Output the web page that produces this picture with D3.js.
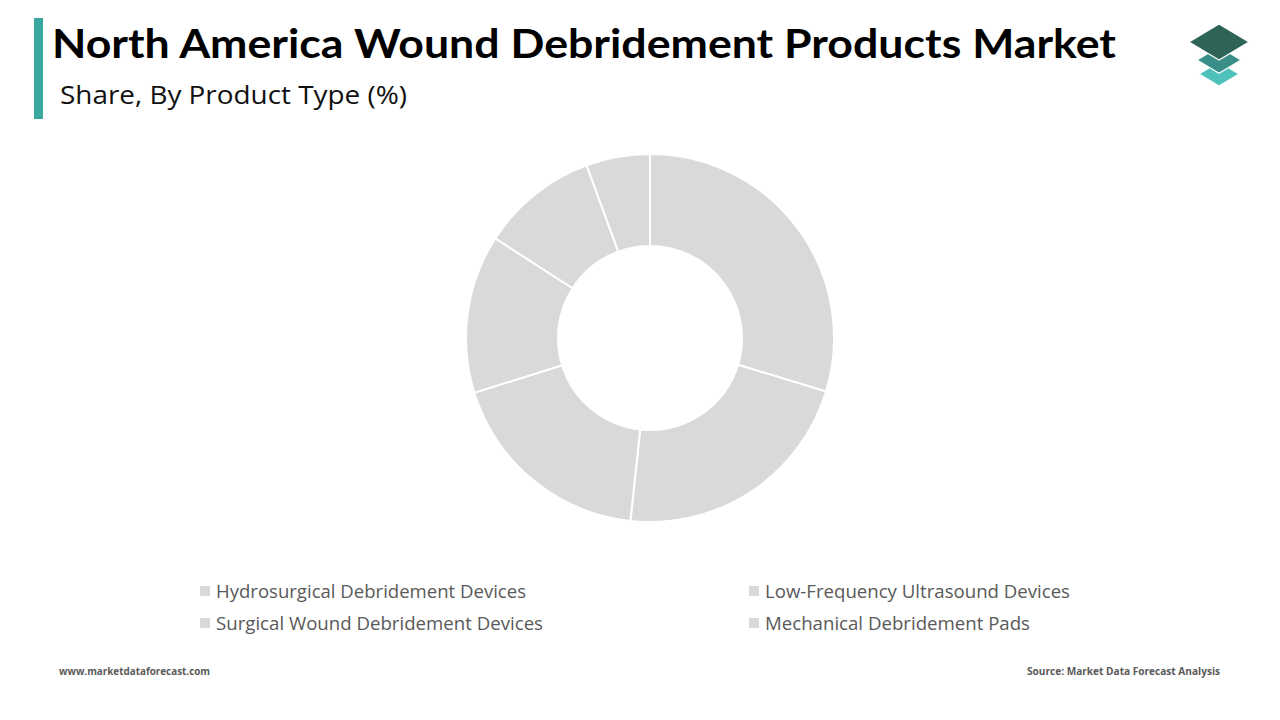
<!DOCTYPE html>
<html><head><meta charset="utf-8">
<script src="https://cdn.jsdelivr.net/npm/d3@7"></script>
<style>
body{margin:0;background:#fff;font-family:"Open Sans","Noto Sans",sans-serif;}
</style></head><body>
<script>
const SLICE_VALUES = [29.7, 22.0, 18.5, 13.9, 10.3, 5.6];
const LEGEND_LABELS = [
  "Hydrosurgical Debridement Devices", "Low-Frequency Ultrasound Devices",
  "Surgical Wound Debridement Devices", "Mechanical Debridement Pads"
];
const LEGEND_WIDTHS = [310, 305, 327, 265];

const W = 1280, H = 720;
const CX = 650, CY = 338, R_OUT = 184, R_IN = 92;

const svg = d3.select("body").append("svg").attr("width", W).attr("height", H);

// title block
svg.append("rect").attr("x", 34).attr("y", 18).attr("width", 9).attr("height", 101).attr("fill", "#3aa89e");
svg.append("text").attr("x", 52).attr("y", 58).attr("font-size", 41).attr("font-weight", 700)
  .attr("font-family", "Lato, 'Open Sans', sans-serif").attr("fill", "#000")
  .attr("textLength", 1064).attr("lengthAdjust", "spacingAndGlyphs")
  .text("North America Wound Debridement Products Market");
svg.append("text").attr("x", 60).attr("y", 104).attr("font-size", 26).attr("fill", "#111")
  .attr("textLength", 347).attr("lengthAdjust", "spacingAndGlyphs")
  .text("Share, By Product Type (%)");

// logo
const logo = svg.append("g").attr("transform", "translate(1219,0)");
[[74, "#4fc1bb", 20], [60, "#3a8e88", 22], [42, "#2e6458", 30]].forEach(([y, c, s]) => {
  logo.append("path").attr("d", `M0,${y - s * 0.6}L${s},${y}L0,${y + s * 0.6}L${-s},${y}Z`)
    .attr("fill", c).attr("stroke", "#fff").attr("stroke-width", 1.2);
});

// donut
const pie = d3.pie().sort(null).value(d => d);
const arc = d3.arc().innerRadius(R_IN).outerRadius(R_OUT);
svg.append("g").attr("transform", `translate(${CX},${CY})`)
  .selectAll("path").data(pie(SLICE_VALUES)).enter().append("path")
  .attr("d", arc).attr("fill", "#d9d9d9").attr("stroke", "#fff").attr("stroke-width", 2);

// legend
const lg = svg.append("g").selectAll("g").data(LEGEND_LABELS).enter().append("g")
  .attr("transform", (_, i) => `translate(${i % 2 ? 749 : 200},${591 + Math.floor(i / 2) * 32})`);
lg.append("rect").attr("x", 0).attr("y", -5).attr("width", 10).attr("height", 10).attr("fill", "#d9d9d9");
lg.append("text").attr("x", 16).attr("y", 6.5).attr("font-size", 18).attr("fill", "#595959")
  .attr("textLength", (_, i) => LEGEND_WIDTHS[i]).attr("lengthAdjust", "spacingAndGlyphs").text(d => d);

// footer
svg.append("text").attr("x", 59).attr("y", 675).attr("font-size", 10.5).attr("font-weight", 700)
  .attr("textLength", 151).attr("lengthAdjust", "spacingAndGlyphs")
  .attr("fill", "#595959").text("www.marketdataforecast.com");
svg.append("text").attr("x", 1027).attr("y", 675).attr("font-size", 10.5)
  .attr("textLength", 193).attr("lengthAdjust", "spacingAndGlyphs")
  .attr("font-weight", 700).attr("fill", "#595959").text("Source: Market Data Forecast Analysis");
</script>
</body></html>
